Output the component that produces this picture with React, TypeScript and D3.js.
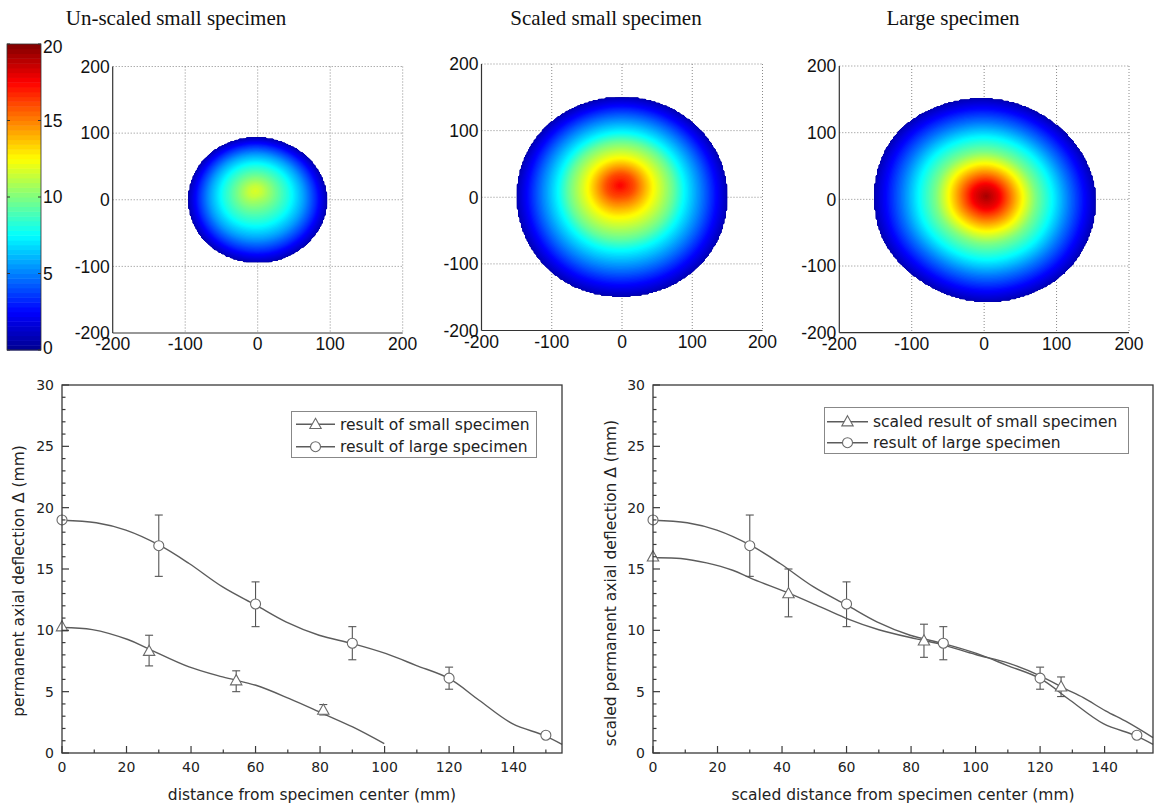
import { useMemo } from 'react';
import * as d3 from 'd3';

const W = 1154;
const H = 812;

// jet colour map (MATLAB style), values in mm
const jetStops = [0, 2.5, 7.5, 12.5, 17.5, 20];
const jetColors = ['#00008f', '#0000ff', '#00ffff', '#ffff00', '#ff0000', '#800000'];
const jet = d3.scaleLinear<string>().domain(jetStops).range(jetColors).clamp(true);

const panelTitles = ['Un-scaled small specimen', 'Scaled small specimen', 'Large specimen'];
const mapTicks = [-200, -100, 0, 100, 200];
const colorbarTicks = [0, 5, 10, 15, 20];

// fitted curves
const smallCurveX = [0, 9.4, 20.4, 26.7, 39.4, 49.8, 60.1, 70.5, 80.9, 90.1, 99.9];
const smallCurveY = [10.23, 10.06, 9.25, 8.51, 7.02, 6.2, 5.52, 4.43, 3.21, 2.12, 0.76];
const largeCurveX = [0, 10.6, 19.8, 30.2, 39.4, 49.8, 60.1, 69.4, 79.7, 90.1, 100.5, 109.7, 120.1, 129.3, 139.6, 149.4, 155];
const largeCurveY = [18.98, 18.77, 18.17, 16.94, 15.45, 13.54, 12.05, 10.69, 9.6, 8.92, 8.1, 7.15, 6.06, 4.3, 2.39, 1.44, 0.71];
const scaledCurveX = [0, 8.6, 16.6, 24.7, 30.4, 42.4, 50.5, 59.7, 70, 81.6, 89.6, 100, 110.4, 120.2, 127.7, 133.4, 140.3, 147.2, 155];
const scaledCurveY = [15.92, 15.86, 15.5, 14.9, 14.24, 13.0, 12.08, 11.0, 10.05, 9.3, 8.84, 8.03, 7.3, 6.27, 5.24, 4.51, 3.43, 2.49, 1.25];

// measured points with error bars
const smallPtsX = [0, 27, 54, 81];
const smallPtsY = [10.3, 8.3, 5.9, 3.5];
const smallErrHi = [10.3, 9.6, 6.7, 3.95];
const smallErrLo = [10.3, 7.1, 5.0, 3.1];
const largePtsX = [0, 30, 60, 90, 120, 150];
const largePtsY = [19.0, 16.9, 12.15, 8.95, 6.1, 1.45];
const largeErrHi = [19.0, 19.4, 13.95, 10.3, 7.0, 1.45];
const largeErrLo = [19.0, 14.4, 10.3, 7.6, 5.2, 1.45];
const scaledPtsX = [0, 42, 84, 126.5];
const scaledPtsY = [16.0, 13.0, 9.15, 5.4];
const scaledErrHi = [16.0, 15.0, 10.5, 6.2];
const scaledErrLo = [16.0, 11.1, 7.8, 4.6];

// contour maps: radial colour profile (mm vs distance from peak), outline radii
// at 16 evenly spaced angles from +x counter-clockwise, and peak offset
const smallMapR = [0, 10, 25, 45, 65, 80, 96];
const smallMapV = [11.8, 11.3, 9.9, 8.0, 5.6, 3.4, 0.8];
const scaledMapR = [0, 20, 45, 75, 90, 118, 151];
const scaledMapV = [17.6, 16.0, 12.7, 9.5, 7.5, 4.5, 0.8];
const largeMapR = [0, 18, 28, 51, 69, 93, 115, 139, 155];
const largeMapV = [19.3, 17.8, 16.2, 12.6, 10.0, 7.5, 5.0, 2.5, 0.8];

const smallBoundary = [96, 95, 94, 93, 94, 95, 96, 96, 96, 96, 96, 95, 95, 95, 95, 96];
const scaledBoundary = [150, 151, 151, 151, 151, 151, 152, 151, 150, 150, 151, 151, 149, 150, 151, 151];
const largeBoundary = [155, 152, 150, 150, 152, 153, 157, 155, 151, 153, 150, 151, 155, 155, 158, 155];
const smallPeak = [-4, 15];
const scaledPeak = [-3, 20];
const largePeak = [3, 5];

const sans = 'Liberation Sans, Arial, sans-serif';
const dv = 'DejaVu Sans, sans-serif';

function HeatPanel({ x0, x1, y0, y1, title, titleX, boundary, peak, profR, profV }: any) {
  const xs = d3.scaleLinear().domain([-200, 200]).range([x0, x1]);
  const ys = d3.scaleLinear().domain([-200, 200]).range([y1, y0]);

  const bands = useMemo(() => {
    const n = 200;
    const step = 400 / n;
    const prof = d3.scaleLinear().domain(profR).range(profV).clamp(true);
    const end = profR[profR.length - 1];
    const outline = d3.interpolateBasisClosed(boundary);
    const values = new Float64Array(n * n);
    for (let j = 0; j < n; j++) {
      for (let i = 0; i < n; i++) {
        const x = -200 + (i + 0.5) * step;
        const y = 200 - (j + 0.5) * step;
        let a = Math.atan2(y, x);
        if (a < 0) a += 2 * Math.PI;
        const R = outline(a / (2 * Math.PI));
        const s0 = Math.hypot(x, y) / R;
        if (s0 > 1) {
          values[j * n + i] = -1;
          continue;
        }
        const k = 1 - s0;
        const s = Math.hypot(x - peak[0] * k, y - peak[1] * k) / R;
        values[j * n + i] = prof(Math.min(s, 1) * end);
      }
    }
    const thresholds = d3.range(0.1, 20, 0.2);
    const contours = d3.contours().size([n, n]).thresholds(thresholds)(Array.from(values));
    const proj = d3.geoTransform({
      point(px: number, py: number) {
        (this as any).stream.point(xs(-200 + px * step), ys(200 - py * step));
      },
    });
    const path = d3.geoPath(proj as any);
    return contours
      .filter((c) => c.coordinates.length > 0)
      .map((c) => ({ d: path(c as any) || '', fill: jet(c.value + 0.1) }));
  }, []);

  return (
    <g>
      <text x={titleX} y={25} textAnchor="middle" fontFamily="Liberation Serif, Times New Roman, serif" fontSize={21} fill="#111">
        {title}
      </text>
      {/* dotted grid, including top/right frame */}
      {mapTicks.slice(1).map((t) => (
        <line key={'gx' + t} x1={xs(t)} x2={xs(t)} y1={y0} y2={y1} stroke="#8a8a8a" strokeDasharray="1 2" />
      ))}
      {mapTicks.slice(1).map((t) => (
        <line key={'gy' + t} x1={x0} x2={x1} y1={ys(t)} y2={ys(t)} stroke="#8a8a8a" strokeDasharray="1 2" />
      ))}
      {bands.map((b, i) => (
        <path key={i} d={b.d} fill={b.fill} />
      ))}
      <line x1={x0} x2={x0} y1={y0} y2={y1} stroke="#333" strokeWidth={1.2} />
      <line x1={x0} x2={x1} y1={y1} y2={y1} stroke="#333" strokeWidth={1.2} />
      {mapTicks.map((t) => (
        <text key={'ly' + t} x={x0 - 3} y={ys(t)} dy="0.36em" textAnchor="end" fontFamily={sans} fontSize={17.5} fill="#111">
          {t}
        </text>
      ))}
      {mapTicks.map((t) => (
        <text key={'lx' + t} x={xs(t)} y={y1 + 17} textAnchor="middle" fontFamily={sans} fontSize={17.5} fill="#111">
          {t}
        </text>
      ))}
    </g>
  );
}

function Colorbar() {
  const x0 = 7;
  const x1 = 41;
  const cy = d3.scaleLinear().domain([0, 20]).range([350, 44]);
  const steps = d3.range(64);
  const dv64 = 20 / 64;
  return (
    <g>
      {steps.map((i) => (
        <rect key={i} x={x0} width={x1 - x0} y={cy((i + 1) * dv64)} height={cy(i * dv64) - cy((i + 1) * dv64) + 0.5} fill={jet((i + 0.5) * dv64)} />
      ))}
      <rect x={x0} y={44} width={x1 - x0} height={306} fill="none" stroke="#333" strokeWidth={0.8} />
      {colorbarTicks.map((t) => (
        <g key={t}>
          <line x1={x0} x2={x0 + 3} y1={cy(t)} y2={cy(t)} stroke="#333" />
          <line x1={x1 - 3} x2={x1} y1={cy(t)} y2={cy(t)} stroke="#333" />
          <text x={x1 + 2} y={cy(t)} dy={t === 20 ? '0.5em' : t === 0 ? '0.2em' : '0.36em'} fontFamily={sans} fontSize={17.5} fill="#111">
            {t}
          </text>
        </g>
      ))}
    </g>
  );
}

function Triangle({ x, y }: { x: number; y: number }) {
  const r = 6;
  return (
    <path
      d={`M${x},${y - r}L${x + r * 0.95},${y + r * 0.7}L${x - r * 0.95},${y + r * 0.7}Z`}
      fill="#fff"
      stroke="#6a6a6a"
      strokeWidth={1.1}
    />
  );
}

function Circle({ x, y }: { x: number; y: number }) {
  return <circle cx={x} cy={y} r={5} fill="#fff" stroke="#6a6a6a" strokeWidth={1.1} />;
}

function LinePanel({ x0, x1, y0, y1, series, legend, xLabel, yLabel, yLabelX, yLabelY, legendBox }: any) {
  const xs = d3.scaleLinear().domain([0, 155]).range([x0, x1]);
  const ys = d3.scaleLinear().domain([0, 30]).range([y1, y0]);
  const xMajor = d3.range(0, 141, 20);
  const xMinor = d3.range(10, 151, 20);
  const yMajor = d3.range(0, 31, 5);
  const yMinor = d3.range(1, 30, 1).filter((v) => v % 5 !== 0);
  const stroke = '#5c5c5c';

  return (
    <g>
      {series.map((s: any, k: number) => {
        const pts: [number, number][] = s.cx.map((v: number, i: number) => [xs(v), ys(s.cy[i])]);
        const d = d3.line().curve(d3.curveCatmullRom)(pts) || '';
        return <path key={'c' + k} d={d} fill="none" stroke={stroke} strokeWidth={1.4} />;
      })}
      {series.map((s: any, k: number) =>
        s.px.map((v: number, i: number) => {
          const x = xs(v);
          if (s.hi[i] === s.lo[i]) return null;
          return (
            <g key={'e' + k + i} stroke="#555" strokeWidth={1.1}>
              <line x1={x} x2={x} y1={ys(s.hi[i])} y2={ys(s.lo[i])} />
              <line x1={x - 4} x2={x + 4} y1={ys(s.hi[i])} y2={ys(s.hi[i])} />
              <line x1={x - 4} x2={x + 4} y1={ys(s.lo[i])} y2={ys(s.lo[i])} />
            </g>
          );
        })
      )}
      {series.map((s: any, k: number) =>
        s.px.map((v: number, i: number) =>
          s.marker === 'tri' ? (
            <Triangle key={'m' + k + i} x={xs(v)} y={ys(s.py[i])} />
          ) : (
            <Circle key={'m' + k + i} x={xs(v)} y={ys(s.py[i])} />
          )
        )
      )}
      <rect x={x0} y={y0} width={x1 - x0} height={y1 - y0} fill="none" stroke="#3a3a3a" strokeWidth={1.3} />
      {xMajor.map((t) => (
        <line key={'xM' + t} x1={xs(t)} x2={xs(t)} y1={y1} y2={y1 - 7} stroke="#3a3a3a" strokeWidth={1.2} />
      ))}
      {xMinor.map((t) => (
        <line key={'xm' + t} x1={xs(t)} x2={xs(t)} y1={y1} y2={y1 - 3.5} stroke="#3a3a3a" strokeWidth={1.2} />
      ))}
      {yMajor.map((t) => (
        <line key={'yM' + t} x1={x0} x2={x0 + 7} y1={ys(t)} y2={ys(t)} stroke="#3a3a3a" strokeWidth={1.2} />
      ))}
      {yMinor.map((t) => (
        <line key={'ym' + t} x1={x0} x2={x0 + 3.5} y1={ys(t)} y2={ys(t)} stroke="#3a3a3a" strokeWidth={1.2} />
      ))}
      {xMajor.map((t) => (
        <text key={'xl' + t} x={xs(t)} y={y1 + 19} textAnchor="middle" fontFamily={dv} fontSize={14} fill="#222">
          {t}
        </text>
      ))}
      {yMajor.map((t) => (
        <text key={'yl' + t} x={x0 - 8} y={ys(t)} dy="0.36em" textAnchor="end" fontFamily={dv} fontSize={14} fill="#222">
          {t}
        </text>
      ))}
      <text x={(x0 + x1) / 2} y={y1 + 47} textAnchor="middle" fontFamily={dv} fontSize={15.5} fill="#222">
        {xLabel}
      </text>
      <text
        transform={`translate(${yLabelX},${yLabelY}) rotate(-90)`}
        textAnchor="middle"
        fontFamily={dv}
        fontSize={15.5}
        fill="#222"
      >
        {yLabel}
      </text>
      <rect x={legendBox.x} y={legendBox.y} width={legendBox.w} height={legendBox.h} fill="#fff" stroke="#888" strokeWidth={1} />
      {legend.map((l: any, i: number) => {
        const ly = legendBox.rows[i];
        const lx0 = legendBox.lineX0;
        const lx1 = legendBox.lineX1;
        return (
          <g key={'lg' + i}>
            <line x1={lx0} x2={lx1} y1={ly} y2={ly} stroke={stroke} strokeWidth={1.4} />
            {l.marker === 'tri' ? <Triangle x={(lx0 + lx1) / 2} y={ly} /> : <Circle x={(lx0 + lx1) / 2} y={ly} />}
            <text x={legendBox.textX} y={ly} dy="0.36em" fontFamily={dv} fontSize={15.5} fill="#222">
              {l.label}
            </text>
          </g>
        );
      })}
    </g>
  );
}

export default function App() {
  const smallSeries = { cx: smallCurveX, cy: smallCurveY, px: smallPtsX, py: smallPtsY, hi: smallErrHi, lo: smallErrLo, marker: 'tri' };
  const largeSeries = { cx: largeCurveX, cy: largeCurveY, px: largePtsX, py: largePtsY, hi: largeErrHi, lo: largeErrLo, marker: 'circ' };
  const scaledSeries = { cx: scaledCurveX, cy: scaledCurveY, px: scaledPtsX, py: scaledPtsY, hi: scaledErrHi, lo: scaledErrLo, marker: 'tri' };

  return (
    <svg width={W} height={H} style={{ display: 'block', position: 'absolute', left: 0, top: 0, background: '#fff' }}>
      <rect width={W} height={H} fill="#fff" />
      <Colorbar />
      <HeatPanel x0={112.7} x1={402.7} y0={66.5} y1={333} title={panelTitles[0]} titleX={176} boundary={smallBoundary} peak={smallPeak} profR={smallMapR} profV={smallMapV} />
      <HeatPanel x0={481.5} x1={762.5} y0={64} y1={330.5} title={panelTitles[1]} titleX={606} boundary={scaledBoundary} peak={scaledPeak} profR={scaledMapR} profV={scaledMapV} />
      <HeatPanel x0={839.3} x1={1129} y0={66} y1={332.7} title={panelTitles[2]} titleX={953} boundary={largeBoundary} peak={largePeak} profR={largeMapR} profV={largeMapV} />
      <LinePanel
        x0={62}
        x1={562}
        y0={385}
        y1={753}
        series={[smallSeries, largeSeries]}
        legend={[
          { marker: 'tri', label: 'result of small specimen' },
          { marker: 'circ', label: 'result of large specimen' },
        ]}
        legendBox={{ x: 291.5, y: 411.5, w: 245, h: 46, lineX0: 296, lineX1: 335, textX: 340, rows: [424.3, 446.7] }}
        xLabel="distance from specimen center (mm)"
        yLabel="permanent axial deflection Δ (mm)"
        yLabelX={24}
        yLabelY={581}
      />
      <LinePanel
        x0={653}
        x1={1153}
        y0={385}
        y1={753}
        series={[scaledSeries, largeSeries]}
        legend={[
          { marker: 'tri', label: 'scaled result of small specimen' },
          { marker: 'circ', label: 'result of large specimen' },
        ]}
        legendBox={{ x: 824.5, y: 407.5, w: 304, h: 46, lineX0: 827, lineX1: 868, textX: 873, rows: [421.7, 442.7] }}
        xLabel="scaled distance from specimen center (mm)"
        yLabel="scaled permanent axial deflection Δ (mm)"
        yLabelX={616}
        yLabelY={583}
      />
    </svg>
  );
}
